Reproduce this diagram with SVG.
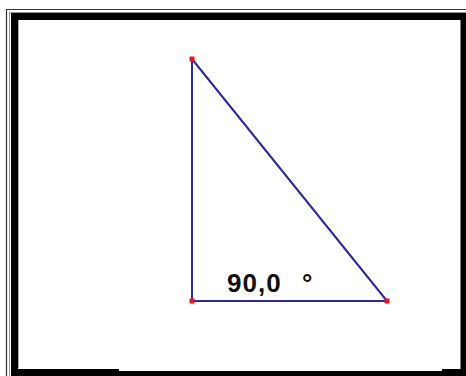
<svg xmlns="http://www.w3.org/2000/svg" width="466" height="376" viewBox="0 0 466 376">
<style>
.edge{stroke:#2a2a9a;stroke-width:2;fill:none}
.pt{fill:#e8141e}
.lbl{font-family:"Liberation Sans",Arial,sans-serif;font-weight:bold;font-size:26px;fill:#111}
</style>
<rect width="466" height="376" fill="#fff"/>
<g id="frame">
<path d="M6.5 376 V9.5 H466" fill="none" stroke="#333" stroke-width="1.2"/>
<path d="M9.5 376 V12.5 H466" fill="none" stroke="#999" stroke-width="1"/>
<path d="M14.5 376 V16.5 H464 V372" fill="none" stroke="#000" stroke-width="7"/>
<rect x="11" y="369" width="108" height="7" fill="#000"/>
<rect x="119" y="371" width="323" height="5" fill="#000"/>
<rect x="442" y="369" width="24" height="7" fill="#000"/>
<path d="M18.5 20 V368" stroke="#aaa" stroke-width="1"/>
</g>
<g id="connectors">
<line class="edge" x1="192" y1="59" x2="192" y2="301"/>
<line class="edge" x1="192" y1="301" x2="387" y2="301"/>
<line class="edge" x1="192" y1="59" x2="387" y2="301" stroke-width="1.3"/>
</g>
<g id="A"><rect class="pt" x="189.5" y="56.5" width="5" height="5"/></g>
<g id="B"><rect class="pt" x="189.5" y="298.5" width="5" height="5"/></g>
<g id="C"><rect class="pt" x="384.5" y="298.5" width="5" height="5"/></g>
<g id="angle"><text class="lbl" x="227" y="292" letter-spacing="1">90,0</text><text class="lbl" x="302" y="292" font-size="20">°</text></g>
</svg>
